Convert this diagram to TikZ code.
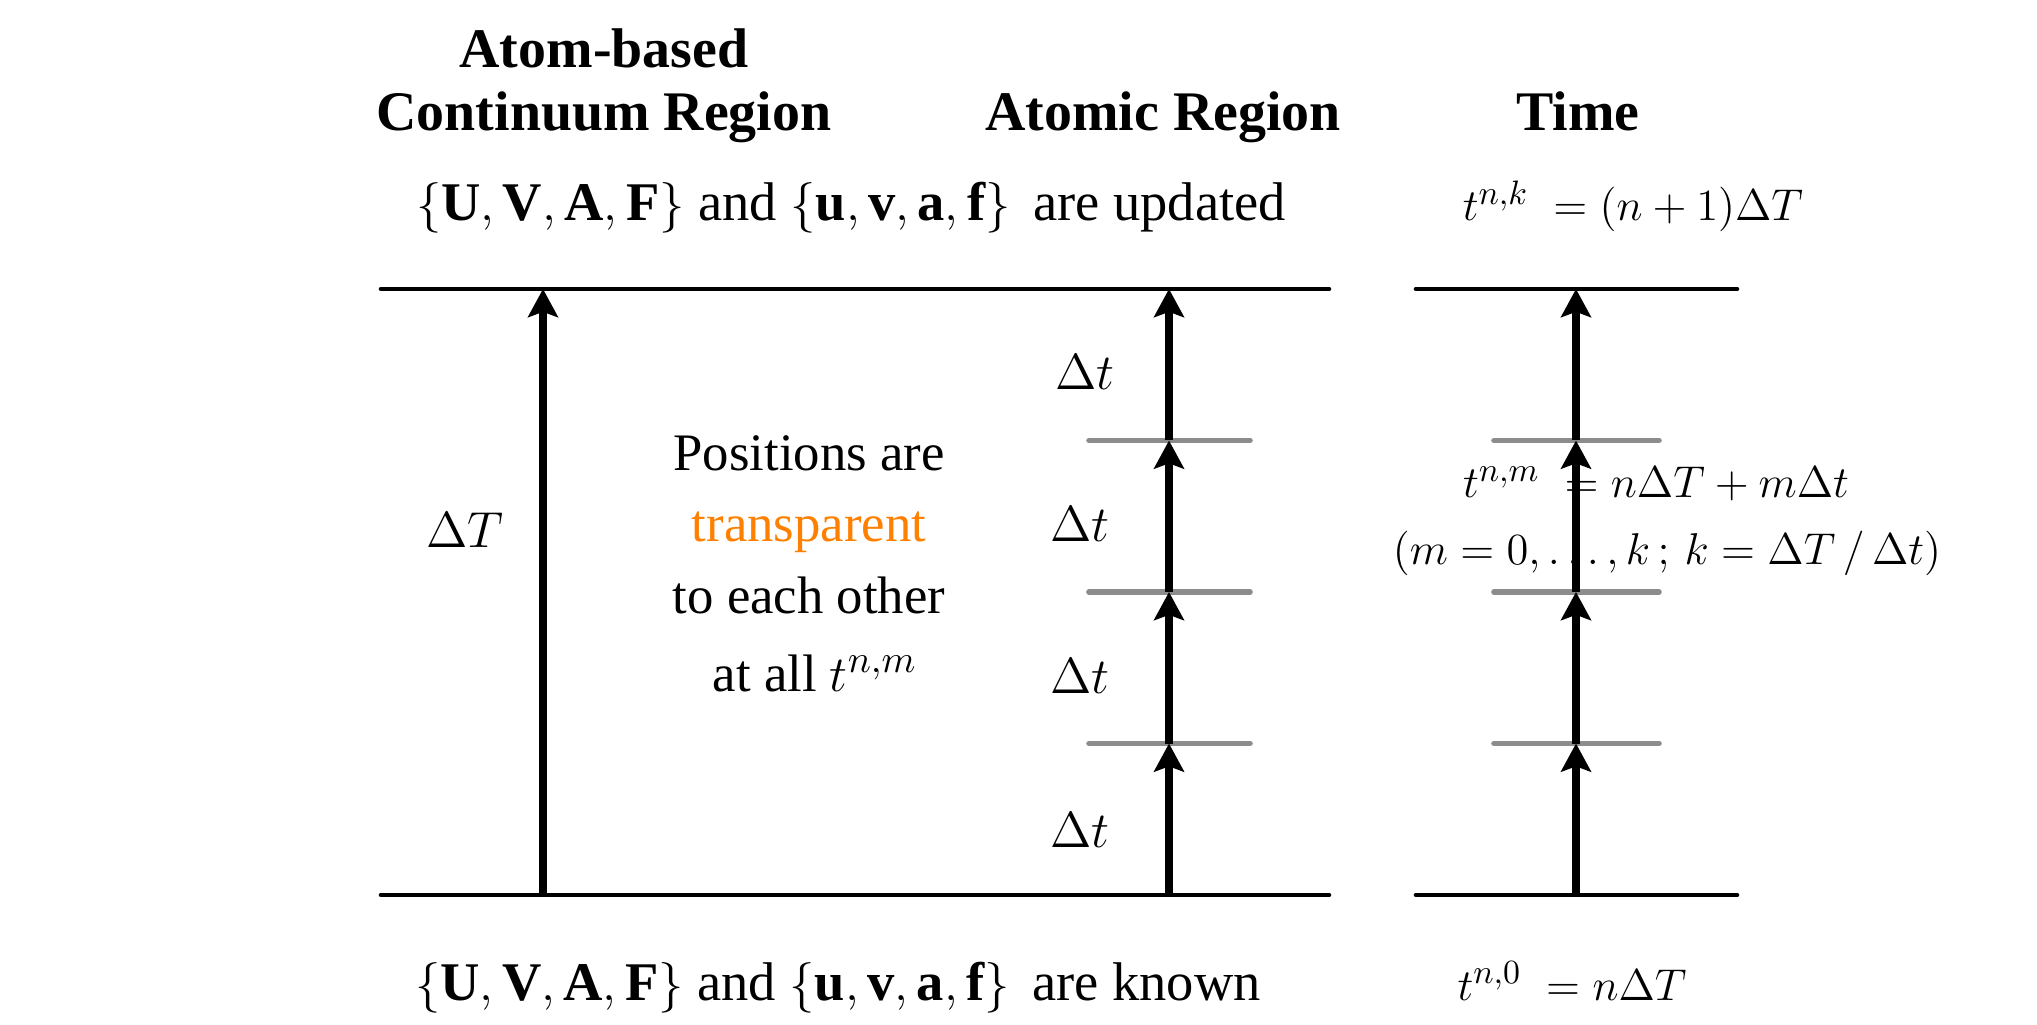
\documentclass[tikz,border=0pt]{standalone}
\usepackage{fontspec}
\setmainfont{Liberation Serif}
\usepackage{amsmath}
\usetikzlibrary{arrows.meta,positioning}
\definecolor{transorange}{RGB}{255,128,0}
\newcommand{\eqsize}[1]{\scalebox{0.88}{#1}}

\begin{document}
\begin{tikzpicture}[
    font=\fontsize{15}{18}\selectfont,
    level/.style={line width=1.3pt, line cap=round},
    tickline/.style={line width=1.6pt, black!45, line cap=round},
    arrow/.style={-{Stealth[length=8pt, width=8.5pt, inset=1.5pt]}, line width=2pt},
    head/.style={anchor=base, font=\fontsize{15.9}{19}\selectfont\bfseries},
    lbl/.style={anchor=base},
    state/.style={anchor=base, font=\fontsize{15.5}{18}\selectfont},
    eqn/.style={anchor=base}
]
    \useasboundingbox (0,0) rectangle (20.37,10.24);

    % Headings
    \node[head] (atombased) at (6.04,9.56) {Atom-based};
    \node[head] (continuum) at (6.04,8.93) {Continuum Region};
    \node[head] (atomic) at (11.63,8.93) {Atomic Region};
    \node[head] (time) at (15.78,8.93) {Time};

    % States at the end of the step
    \node[state] (updated) at (8.51,8.03) {$\{\mathbf{U},\mathbf{V},\mathbf{A},\mathbf{F}\}$ and $\{\mathbf{u},\mathbf{v},\mathbf{a},\mathbf{f}\}$\, are updated};
    \node[eqn] (tnk) at (16.33,8.03) {\eqsize{$t^{n,k}\;=(n+1)\Delta T$}};

    % States at the start of the step
    \node[state] (known) at (8.38,0.24) {$\{\mathbf{U},\mathbf{V},\mathbf{A},\mathbf{F}\}$ and $\{\mathbf{u},\mathbf{v},\mathbf{a},\mathbf{f}\}$\, are known};
    \node[eqn] (tn0) at (15.72,0.24) {\eqsize{$t^{n,0}\;=n\Delta T$}};

    % Labels inside
    \node[lbl] (bigstep) at (4.65,4.76) {$\Delta T$};
    \node[lbl] (pos1) at (8.09,5.54) {Positions are};
    \node[lbl] (pos2) at (8.09,4.82) {\textcolor{transorange}{transparent}};
    \node[lbl] (pos3) at (8.09,4.10) {to each other};
    \node[lbl] (pos4) at (8.15,3.33) {at all $t^{n,m}$};
    \node[lbl] (dt4) at (10.85,6.34) {$\Delta t$};
    \node[lbl] (dt3) at (10.80,4.82) {$\Delta t$};
    \node[lbl] (dt2) at (10.80,3.30) {$\Delta t$};
    \node[lbl] (dt1) at (10.80,1.77) {$\Delta t$};
    \node[eqn] (tnm) at (16.56,5.26) {\eqsize{$t^{n,m}\;=n\Delta T+m\Delta t$}};
    \node[eqn] (mrange) at (16.67,4.59) {\eqsize{$(m=0,\ldots,k\,;\,k=\Delta T\,/\,\Delta t)$}};

    % Levels
    \coordinate (lbot) at (3.81,1.29);
    \coordinate (rbot) at (13.29,1.29);
    \coordinate (ltop) at (3.81,7.35);
    \coordinate (rtop) at (13.29,7.35);
    \coordinate (tlbot) at (14.16,1.29);
    \coordinate (trbot) at (17.37,1.29);
    \coordinate (tltop) at (14.16,7.35);
    \coordinate (trtop) at (17.37,7.35);
    \draw[level] (lbot) -- (rbot);
    \draw[level] (ltop) -- (rtop);
    \draw[level] (tlbot) -- (trbot);
    \draw[level] (tltop) -- (trtop);

    % Sub steps
    \draw[tickline] (10.89,2.805) -- (12.50,2.805);
    \draw[tickline] (10.89,4.32) -- (12.50,4.32);
    \draw[tickline] (10.89,5.835) -- (12.50,5.835);
    \draw[tickline] (14.94,2.805) -- (16.59,2.805);
    \draw[tickline] (14.94,4.32) -- (16.59,4.32);
    \draw[tickline] (14.94,5.835) -- (16.59,5.835);

    % Continuum step
    \coordinate (c0) at (5.43,1.29);
    \coordinate (c1) at (5.43,7.35);
    \draw[arrow] (c0) -- (c1);

    % Atomic steps
    \coordinate (a0) at (11.69,1.29);
    \coordinate (a1) at (11.69,2.805);
    \coordinate (a2) at (11.69,4.32);
    \coordinate (a3) at (11.69,5.835);
    \coordinate (a4) at (11.69,7.35);
    \draw[arrow] (a0) -- (a1);
    \draw[arrow] (a1) -- (a2);
    \draw[arrow] (a2) -- (a3);
    \draw[arrow] (a3) -- (a4);

    % Time steps
    \coordinate (s0) at (15.76,1.29);
    \coordinate (s1) at (15.76,2.805);
    \coordinate (s2) at (15.76,4.32);
    \coordinate (s3) at (15.76,5.835);
    \coordinate (s4) at (15.76,7.35);
    \draw[arrow] (s0) -- (s1);
    \draw[arrow] (s1) -- (s2);
    \draw[arrow] (s2) -- (s3);
    \draw[arrow] (s3) -- (s4);
\end{tikzpicture}
\end{document}
